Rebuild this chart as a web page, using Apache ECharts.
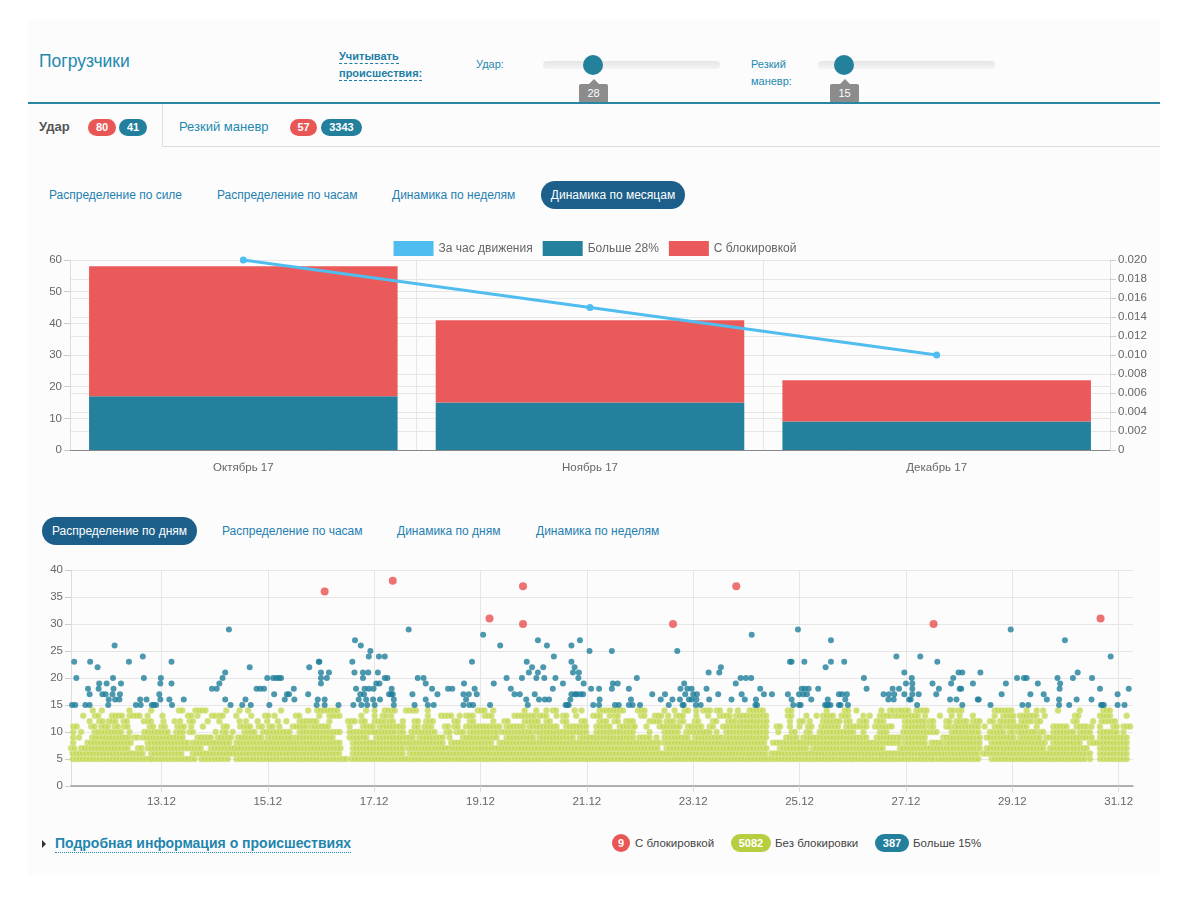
<!DOCTYPE html>
<html lang="ru">
<head>
<meta charset="utf-8">
<title>Погрузчики</title>
<script src="https://cdn.jsdelivr.net/npm/echarts@6/dist/echarts.min.js"></script>
<style>
  body { margin: 0; width: 1190px; height: 908px; background: #fff; font-family: 'Liberation Sans', Arial, sans-serif; position: relative; overflow: hidden; }
  .abs { position: absolute; white-space: nowrap; }
  .panel { left: 28px; top: 20px; width: 1132px; height: 855px; background: #fcfcfc; }
  .title { left: 39px; top: 51px; font-size: 17.5px; color: #2389b0; }
  .dash { font-size: 11px; font-weight: bold; color: #1d7ea6; border-bottom: 1px dashed #1d7ea6; line-height: 13px; }
  .lbl { font-size: 11px; color: #2389b0; line-height: 17px; }
  .track { height: 8px; width: 177px; top: 61px; border-radius: 4px; background: linear-gradient(#e6e6e6, #f4f4f4); }
  .handle { width: 20px; height: 20px; top: 55px; border-radius: 50%; background: #23819c; }
  .tip { top: 84px; width: 29px; height: 19px; background: #8c8c8c; color: #fff; font-size: 11px; line-height: 19px; text-align: center; border-radius: 2px; }
  .tip:before { content: ''; position: absolute; left: 10px; top: -5px; border-left: 5px solid transparent; border-right: 5px solid transparent; border-bottom: 5px solid #8c8c8c; }
  .badge { height: 17px; line-height: 17px; border-radius: 9px; color: #fff; font-size: 11px; font-weight: bold; text-align: center; }
  .red { background: #e95656; }
  .teal { background: #23809d; }
  .green { background: #b8cd40; }
  .tab { font-size: 12px; color: #1f80b2; line-height: 28px; }
  .pill { height: 28px; line-height: 28px; border-radius: 14px; background: #1c5f8a; color: #fff; font-size: 12px; text-align: center; }
  .small { font-size: 11.5px; color: #444; line-height: 18px; }
</style>
</head>
<body>
<div class="abs panel"></div>

<div class="abs title">Погрузчики</div>
<div class="abs dash" style="left:339px;top:50px;">Учитывать</div>
<div class="abs dash" style="left:339px;top:67px;">происшествия:</div>

<div class="abs lbl" style="left:476px;top:56px;">Удар:</div>
<div class="abs track" style="left:543px;"></div>
<div class="abs handle" style="left:583px;"></div>
<div class="abs tip" style="left:579px;">28</div>

<div class="abs lbl" style="left:751px;top:56px;">Резкий</div>
<div class="abs lbl" style="left:751px;top:73px;">маневр:</div>
<div class="abs track" style="left:818px;"></div>
<div class="abs handle" style="left:834px;"></div>
<div class="abs tip" style="left:830px;">15</div>

<div class="abs" style="left:28px;top:102px;width:1132px;height:2px;background:#2a87a3;"></div>

<div class="abs" style="left:39px;top:119px;font-size:13px;font-weight:bold;color:#555;">Удар</div>
<div class="abs badge red" style="left:88px;top:119px;width:28px;">80</div>
<div class="abs badge teal" style="left:119px;top:119px;width:28px;">41</div>
<div class="abs" style="left:162px;top:104px;width:1px;height:43px;background:#ddd;"></div>
<div class="abs" style="left:162px;top:146px;width:998px;height:1px;background:#ddd;"></div>
<div class="abs" style="left:179px;top:119px;font-size:13px;color:#2389b0;">Резкий маневр</div>
<div class="abs badge red" style="left:290px;top:119px;width:27px;">57</div>
<div class="abs badge teal" style="left:321px;top:119px;width:41px;">3343</div>

<div class="abs tab" style="left:49px;top:181px;">Распределение по силе</div>
<div class="abs tab" style="left:217px;top:181px;">Распределение по часам</div>
<div class="abs tab" style="left:392px;top:181px;">Динамика по неделям</div>
<div class="abs pill" style="left:541px;top:181px;width:144px;">Динамика по месяцам</div>

<div id="bars" class="abs" style="left:30px;top:225px;width:1130px;height:260px;"></div>

<div class="abs pill" style="left:42px;top:517px;width:155px;">Распределение по дням</div>
<div class="abs tab" style="left:222px;top:517px;">Распределение по часам</div>
<div class="abs tab" style="left:397px;top:517px;">Динамика по дням</div>
<div class="abs tab" style="left:536px;top:517px;">Динамика по неделям</div>

<div id="dots" class="abs" style="left:30px;top:555px;width:1130px;height:260px;"></div>

<div class="abs" style="left:42px;top:840px;width:0;height:0;border-top:4px solid transparent;border-bottom:4px solid transparent;border-left:4px solid #333;"></div>
<div class="abs" style="left:55px;top:835px;font-size:14px;font-weight:bold;color:#1f86ae;border-bottom:1px dotted #1f86ae;line-height:17px;">Подробная информация о происшествиях</div>

<div class="abs badge red" style="left:612px;top:834px;width:18px;height:18px;line-height:18px;">9</div>
<div class="abs small" style="left:635px;top:834px;">С блокировкой</div>
<div class="abs badge green" style="left:731px;top:834px;width:40px;height:18px;line-height:18px;">5082</div>
<div class="abs small" style="left:775px;top:834px;">Без блокировки</div>
<div class="abs badge teal" style="left:875px;top:834px;width:34px;height:18px;line-height:18px;">387</div>
<div class="abs small" style="left:913px;top:834px;">Больше 15%</div>

<script>
// ── monthly chart data ──
const months = ['Октябрь 17', 'Ноябрь 17', 'Декабрь 17']
const perHour = [0.020, 0.015, 0.010]
const over28 = [17, 15, 9]
const blocked = [41, 26, 13]

// ── daily scatter data: x = day of December, y = strength ──
const dayTicks = [13, 15, 17, 19, 21, 23, 25, 27, 29, 31]
const dayLabels = ['13.12', '15.12', '17.12', '19.12', '21.12', '23.12', '25.12', '27.12', '29.12', '31.12']

const redDots = [[16.07,36],[17.35,38],[19.17,31],[19.80,37],[19.80,30],[22.62,30],[23.81,37],[27.52,30],[30.66,31]]

const blueDots = [
  [11.32,15],[11.38,15],[11.36,23],[11.40,20],[11.57,15],[11.65,15],[11.62,18],[11.65,17],[11.66,23],[11.80,22],[11.82,18],[11.83,19],[11.89,17],[11.95,17],[11.97,19],[12.00,15],[12.01,16],[12.08,17],[12.09,20],[12.10,18],[12.12,26],[12.13,16],[12.21,16],[12.22,17],[12.24,19],[12.39,23],[12.52,15],[12.60,16],[12.61,15],[12.65,24],[12.67,20],[12.72,16],[12.82,15],[12.86,15],[12.90,15],[12.96,17],[12.98,19],[12.99,20],[12.98,16],[13.15,16],[13.19,23],[13.19,19],[13.20,15],[13.42,16],[13.95,18],[14.04,18],[14.09,19],[14.15,20],[14.20,21],[14.20,16],[14.27,29],[14.30,15],[14.52,15],[14.58,16],[14.66,22],[14.68,15],[14.79,18],[14.86,18],[14.93,18],[14.99,20],[15.03,15],[15.10,20],[15.12,17],[15.16,20],[15.21,20],[15.25,20],[15.32,16],[15.36,17],[15.40,17],[15.49,18],[15.50,16],[15.76,17],[15.78,22],[15.92,15],[15.94,16],[15.96,23],
  [15.97,23],[16.00,21],[16.00,20],[16.00,19],[16.07,16],[16.07,15],[16.11,20],[16.15,21],[16.33,15],[16.59,23],[16.61,15],[16.63,21],[16.64,27],[16.66,18],[16.71,16],[16.74,17],[16.75,26],[16.76,15],[16.79,20],[16.79,21],[16.81,17],[16.82,18],[16.85,16],[16.87,15],[16.89,21],[16.90,18],[16.90,24],[16.93,25],[16.98,16],[16.99,18],[17.01,15],[17.04,19],[17.07,21],[17.09,24],[17.10,19],[17.11,16],[17.20,24],[17.20,20],[17.25,20],[17.28,17],[17.32,17],[17.33,18],[17.37,16],[17.37,15],[17.35,17],
  [17.65,29],[17.72,17],[17.76,15],[17.82,20],[17.93,20],[17.97,19],[17.97,16],[18.01,15],[18.09,18],[18.12,15],[18.19,17],[18.39,18],[18.47,18],
  [18.68,17],[18.68,15],[18.69,19],[18.73,16],[18.78,17],[18.79,15],[18.84,23],[18.86,15],[18.89,18],[18.93,17],[19.05,28],[19.18,15],[19.25,19],[19.37,26],[19.49,20],[19.57,18],[19.64,17],[19.74,17],[19.78,20],[19.86,16],[19.87,23],[19.89,15],[19.91,21],[19.97,22],[20.02,17],[20.05,20],[20.08,27],[20.08,21],[20.10,16],[20.18,22],[20.20,20],[20.21,16],[20.25,26],[20.29,16],[20.36,18],[20.38,24],[20.41,20],[20.55,19],[20.60,15],[20.63,15],[20.66,15],[20.69,16],[20.71,23],[20.71,26],[20.74,21],[20.77,22],[20.71,17],[20.78,17],[20.81,17],[20.84,20],[20.85,21],[20.87,27],[20.88,17],[20.94,19],[20.93,17],[21.05,25],[21.08,18],[21.12,15],[21.23,18],[21.23,15],
  [21.24,16],[21.47,18],[21.47,25],[21.49,19],[21.53,15],[21.58,19],[21.60,15],[21.79,18],[21.79,15],[21.83,16],[21.86,15],[21.94,20],[22.00,15],[22.23,17],[22.39,16],[22.47,17],[22.54,15],[22.61,16],[22.70,25],[22.75,16],[22.76,18],[22.80,15],[22.82,15],[22.83,19],[22.85,17],[22.89,18],[22.92,16],[22.97,18],[22.97,16],[23.00,17],[23.05,15],[23.06,16],[23.07,17],[23.14,15],[23.25,18],[23.29,21],[23.30,16],[23.47,17],[23.49,21],[23.52,22],[23.72,16],[23.80,19],[23.89,20],[23.91,17],[23.97,16],[23.99,20],[24.09,20],[24.10,28],[24.17,15],[24.18,16],[24.20,15],[24.26,18],[24.33,17],[24.48,17],[24.78,17],[24.82,23],[24.85,23],[24.85,16],[24.88,15],[24.97,29],[24.99,15],[24.99,17],[25.02,15],[25.04,18],[25.07,17],[25.09,23],[25.10,18],[25.14,17],[25.17,18],[25.22,16],[25.35,18],[25.48,15],[25.49,22],[25.51,15],[25.53,16],[25.54,15],[25.58,15],[25.59,27],[25.59,23],[25.74,17],[25.74,15],[25.77,15],[25.80,17],[25.84,23],[25.86,16],[25.89,17],[25.91,15],[26.21,20],[26.26,18],
  [26.58,17],[26.67,16],[26.68,17],[26.75,18],[26.77,16],[26.78,17],[26.82,24],[26.87,18],[26.97,21],[26.97,17],[27.00,19],[27.06,16],[27.11,20],[27.12,19],[27.12,17],[27.12,18],[27.09,16],[27.21,15],[27.24,17],[27.27,24],[27.50,19],[27.57,17],[27.59,23],[27.62,18],[27.83,16],[27.85,19],[27.89,20],[27.95,16],[27.99,21],[28.01,18],[28.04,18],[28.06,15],[28.06,21],[28.26,19],[28.35,16],[28.37,16],[28.40,21],[28.59,15],[28.80,17],[28.88,19],[28.97,29],[29.09,20],[29.19,15],[29.22,20],[29.27,20],[29.30,15],[29.34,17],[29.48,19],[29.59,17],[29.65,16],[29.85,20],[29.88,15],[29.88,16],[29.89,18],[29.90,19],[29.99,27],[30.07,15],[30.14,20],[30.21,16],[30.23,21],[30.49,16],[30.50,20],[30.65,18],[30.67,15],[30.69,15],[30.72,15],[30.85,24],[30.98,17],[30.98,15],[31.11,15],[31.19,18]
]

// green "без блокировки" dots are too dense to read one by one:
// each row lists the stretches of days where that level is filled
const green14 = [[11.71,11.71],[11.88,11.93],[12.40,12.40],[12.81,12.81],[13.33,13.40],[13.64,13.84],[14.22,14.22],[14.47,14.47],[14.63,14.69],[15.25,15.25],[15.76,15.76],[15.93,16.35],[16.85,16.91],[17.01,17.01],[17.20,17.42],[17.60,17.79],[18.01,18.04],[18.95,19.08],[19.24,19.24],[19.83,19.86],[20.05,20.11],[20.24,20.24],[20.36,20.43],[20.77,20.80],[20.90,20.93],[21.24,21.37],[21.43,21.62],[21.68,21.74],[21.96,22.09],[22.46,22.46],[22.65,22.65],[22.84,22.93],[23.06,23.12],[23.19,23.34],[23.44,23.53],[23.69,23.69],[23.84,23.84],[24.06,24.31],[24.78,24.85],[25.51,25.57],[25.85,25.95],[26.07,26.07],[26.54,26.60],[26.70,26.79],[26.85,26.92],[26.98,27.07],[27.20,27.39],[27.83,27.92],[27.98,28.08],[28.67,28.99],[29.27,29.33],[29.46,29.46],[29.58,29.58],[29.86,29.86],[30.27,30.27],[30.71,30.84]]
const green13 = [[11.53,11.53],[11.75,11.82],[12.07,12.26],[12.40,12.62],[12.74,12.79],[13.02,13.06],[13.50,13.59],[13.68,13.68],[13.95,14.02],[14.09,14.19],[14.41,14.41],[14.69,14.69],[14.95,15.03],[15.13,15.19],[15.53,15.63],[15.97,15.97],[16.16,16.35],[16.76,16.76],[17.01,17.07],[17.16,17.23],[17.32,17.32],[18.01,18.01],[18.26,18.48],[18.61,18.61],[18.73,18.89],[19.08,19.24],[19.64,20.05],[20.11,20.24],[20.43,20.49],[20.55,20.65],[20.80,20.80],[21.12,21.30],[21.43,21.43],[21.52,21.62],[22.02,22.09],[22.28,22.28],[22.34,22.43],[22.53,22.53],[22.68,22.81],[23.06,23.12],[23.28,23.34],[23.50,23.72],[23.81,24.00],[24.06,24.38],[24.78,24.85],[25.13,25.13],[25.32,25.32],[25.44,25.63],[25.79,25.95],[26.20,26.20],[26.32,26.32],[26.51,26.73],[26.79,27.04],[27.10,27.26],[27.36,27.39],[27.64,27.64],[27.86,27.86],[28.01,28.01],[28.26,28.26],[28.67,28.67],[28.83,29.02],[29.14,29.46],[29.61,29.61],[30.18,30.27],[30.65,30.84],[31.15,31.15]]
const green12 = [[11.65,11.65],[11.83,11.90],[12.01,12.16],[12.29,12.40],[12.67,12.67],[12.74,12.82],[13.04,13.08],[13.25,13.25],[13.35,13.41],[13.53,13.62],[13.87,13.87],[14.09,14.15],[14.47,14.53],[14.59,14.59],[14.81,14.84],[14.99,15.05],[15.19,15.19],[15.35,15.35],[15.60,15.97],[16.16,16.16],[16.51,16.66],[16.76,16.85],[17.01,17.20],[17.29,17.38],[17.54,17.60],[17.76,17.85],[17.98,18.14],[18.51,18.61],[18.80,18.92],[19.24,19.24],[19.45,19.55],[19.83,20.14],[20.24,20.36],[20.55,20.65],[20.90,20.99],[21.24,21.37],[21.52,21.62],[21.74,21.87],[22.18,22.37],[22.50,22.68],[22.75,22.87],[23.03,23.12],[23.37,23.44],[23.66,23.81],[23.88,24.38],[24.82,24.88],[25.00,25.07],[25.19,25.25],[25.44,25.76],[25.88,25.95],[26.13,26.26],[26.45,26.60],[26.98,27.39],[27.45,27.57],[27.76,27.83],[27.95,28.17],[28.26,28.39],[28.58,28.70],[28.77,29.08],[29.17,29.39],[29.46,29.58],[30.15,30.27],[30.52,30.52],[30.68,30.99]]
const green11 = [[11.28,11.43],[11.68,11.77],[11.87,12.05],[12.12,12.24],[12.30,12.40],[12.78,12.90],[13.00,13.09],[13.30,13.46],[13.56,13.60],[13.78,13.84],[14.17,14.26],[14.48,14.67],[14.83,14.91],[15.03,15.13],[15.22,15.28],[15.47,15.75],[15.82,16.16],[16.54,16.60],[16.79,16.98],[17.10,17.42],[17.48,17.57],[17.76,17.85],[17.95,18.11],[18.33,18.45],[18.51,18.61],[18.73,18.92],[18.98,19.36],[19.49,19.86],[19.92,20.11],[20.18,20.49],[20.61,20.99],[21.18,21.49],[21.62,21.87],[21.90,21.93],[22.12,22.15],[22.37,22.75],[22.90,23.19],[23.31,23.40],[23.56,23.75],[23.81,24.38],[24.57,24.66],[24.82,24.88],[25.00,25.00],[25.16,25.25],[25.41,25.76],[25.88,26.26],[26.42,26.79],[26.98,27.39],[27.45,27.54],[27.76,27.83],[27.92,28.39],[28.48,28.48],[28.67,28.83],[28.89,29.02],[29.08,29.27],[29.46,29.52],[29.77,30.02],[30.21,30.40],[30.49,30.49],[30.65,30.71],[30.90,31.02],[31.09,31.28]]
const green10 = [[11.28,11.39],[11.49,11.49],[11.74,12.27],[12.40,12.46],[12.68,13.15],[13.28,13.46],[13.53,13.62],[14.02,14.04],[14.15,14.22],[14.34,14.37],[14.56,14.78],[14.91,15.47],[15.60,16.41],[16.54,16.98],[17.01,17.42],[17.48,17.60],[17.70,18.17],[18.36,18.48],[18.55,18.73],[18.80,19.30],[19.39,19.58],[19.64,19.99],[20.05,20.74],[20.80,20.99],[21.18,21.62],[21.68,21.87],[22.18,22.18],[22.46,22.75],[22.87,23.31],[23.44,23.50],[23.62,24.38],[24.60,24.63],[24.85,24.94],[25.13,25.25],[25.38,25.76],[25.82,26.01],[26.20,26.26],[26.51,26.67],[26.95,27.39],[27.45,27.61],[27.86,28.39],[28.58,28.89],[28.95,29.02],[29.11,29.46],[29.52,29.64],[29.77,30.15],[30.27,30.40],[30.46,30.52],[30.65,31.02],[31.09,31.15]]
const green9 = [[11.28,11.36],[11.45,11.45],[11.70,12.40],[12.49,12.56],[12.65,13.46],[13.68,13.93],[14.06,14.31],[14.44,14.91],[15.00,15.47],[15.53,16.22],[16.54,16.91],[17.04,17.48],[17.54,17.73],[17.85,18.29],[18.42,18.42],[18.67,19.17],[19.24,19.36],[19.49,19.99],[20.11,20.74],[20.87,21.87],[21.99,22.18],[22.31,22.31],[22.46,22.93],[23.03,23.56],[23.62,24.38],[24.75,24.94],[25.07,25.82],[25.88,26.26],[26.45,26.89],[26.98,27.39],[27.70,28.39],[28.52,29.08],[29.14,29.52],[29.64,30.33],[30.37,30.52],[30.65,31.21]]
const green8 = [[11.28,11.39],[11.61,12.43],[12.74,13.53],[13.59,14.28],[14.41,16.35],[16.60,18.29],[18.45,19.24],[19.36,22.37],[22.46,24.38],[24.50,26.89],[26.98,27.39],[27.48,27.70],[27.76,28.39],[28.61,29.64],[29.77,30.27],[30.46,30.59],[30.65,31.18],[31.28,31.28]]
const green7 = [[11.30,11.39],[11.49,12.40],[12.56,12.68],[12.74,13.78],[13.93,16.41],[16.60,17.57],[17.64,22.37],[22.50,24.38],[24.63,25.13],[25.25,26.60],[26.89,28.39],[28.52,29.64],[29.71,30.40],[30.65,31.15]]
const green6 = [[11.27,12.65],[12.81,13.40],[13.59,16.35],[16.60,17.54],[17.67,24.38],[24.47,28.39],[28.45,30.40],[30.46,30.52],[30.65,31.18]]
const green5 = [[11.27,12.78],[12.81,13.65],[13.75,14.31],[14.41,16.48],[16.57,17.42],[17.45,22.43],[22.46,24.44],[24.47,27.54],[27.61,28.42],[28.61,30.40],[30.46,30.52],[30.65,31.18]]

// ─────────────────────────────────────────
// HELPERS
// ─────────────────────────────────────────
const FONT = "'Liberation Sans', Arial, sans-serif"
const C = { red: '#eb5a5a', blue: '#23819d', sky: '#4fbdf0', green: '#c4d751', grid: '#e6e6e6', text: '#666' }

// one dot every hour and a half along every filled stretch
function rowDots(level, stretches) {
  const out = []
  stretches.forEach(([a, b]) => {
    for (let t = a; t <= b + 1e-6; t += 1 / 16) out.push([+t.toFixed(3), level])
  })
  return out
}

const greenRows = [[5, green5], [6, green6], [7, green7], [8, green8], [9, green9], [10, green10], [11, green11], [12, green12], [13, green13], [14, green14]]
const greenDots = greenRows.flatMap(([lvl, rows]) => rowDots(lvl, rows))

// ─────────────────────────────────────────
// MONTHLY BARS
// ─────────────────────────────────────────
const bars = echarts.init(document.getElementById('bars'), null, { renderer: 'canvas' })
bars.setOption({
  animation: false,
  textStyle: { fontFamily: FONT },
  legend: {
    top: 11,
    left: 'center',
    itemWidth: 40,
    itemHeight: 15,
    itemGap: 10,
    textStyle: { color: C.text, fontSize: 12 },
    data: [
      { name: 'За час движения', icon: 'rect' },
      { name: 'Больше 28%', icon: 'rect' },
      { name: 'С блокировкой', icon: 'rect' },
    ],
  },
  grid: { left: 40, right: 50, top: 35, bottom: 35 },
  xAxis: {
    type: 'category',
    data: months,
    axisLine: { lineStyle: { color: '#888' } },
    axisTick: { length: 10, lineStyle: { color: '#ddd' } },
    splitLine: { show: true, lineStyle: { color: C.grid } },
    axisLabel: { color: C.text, fontSize: 11.5, margin: 12 },
  },
  yAxis: [
    {
      type: 'value', min: 0, max: 60, interval: 10,
      axisLine: { show: true, lineStyle: { color: '#ddd' } },
      axisTick: { show: true, length: 6, lineStyle: { color: '#ccc' } },
      splitLine: { lineStyle: { color: C.grid } },
      axisLabel: { color: C.text, fontSize: 11.5, margin: 8 },
    },
    {
      type: 'value', min: 0, max: 0.02, interval: 0.002, position: 'right',
      axisLine: { show: true, lineStyle: { color: '#ddd' } },
      axisTick: { show: true, length: 6, lineStyle: { color: '#ccc' } },
      splitLine: { lineStyle: { color: C.grid } },
      axisLabel: { color: C.text, fontSize: 11.5, margin: 8, formatter: v => (v === 0 ? '0' : v.toFixed(3)) },
    },
  ],
  series: [
    {
      name: 'Больше 28%', type: 'bar', stack: 'm', data: over28,
      barCategoryGap: '11%', itemStyle: { color: C.blue },
    },
    {
      name: 'С блокировкой', type: 'bar', stack: 'm', data: blocked,
      itemStyle: { color: C.red },
    },
    {
      name: 'За час движения', type: 'line', yAxisIndex: 1, data: perHour, z: 5,
      symbol: 'circle', symbolSize: 7,
      lineStyle: { width: 3, color: C.sky }, itemStyle: { color: C.sky },
    },
  ],
})

// ─────────────────────────────────────────
// DAILY SCATTER
// ─────────────────────────────────────────
const dots = echarts.init(document.getElementById('dots'), null, { renderer: 'canvas' })
dots.setOption({
  animation: false,
  textStyle: { fontFamily: FONT },
  grid: { left: 41, right: 27, top: 15, bottom: 29 },
  xAxis: {
    type: 'value', min: 11.3, max: 31.27,
    axisLine: { lineStyle: { color: '#999', width: 1.5 } },
    axisTick: { show: true, customValues: dayTicks, length: 6, lineStyle: { color: '#ddd' } },
    axisLabel: {
      customValues: dayTicks, color: C.text, fontSize: 11.5, margin: 10,
      formatter: v => dayLabels[dayTicks.indexOf(Math.round(v))] || '',
    },
    splitLine: { show: true, lineStyle: { color: C.grid } },
  },
  yAxis: {
    type: 'value', min: 0, max: 40, interval: 5,
    axisLine: { show: true, lineStyle: { color: '#ddd' } },
    axisTick: { show: true, length: 6, lineStyle: { color: '#ccc' } },
    splitLine: { lineStyle: { color: C.grid } },
    axisLabel: { color: C.text, fontSize: 11.5, margin: 8 },
  },
  series: [
    {
      name: 'Без блокировки', type: 'scatter', data: greenDots, symbolSize: 6.5,
      itemStyle: { color: C.green, borderColor: 'rgba(255,255,255,0.55)', borderWidth: 0.6 },
    },
    { name: 'Больше 15%', type: 'scatter', data: blueDots, symbolSize: 6, itemStyle: { color: '#1f7e9b' } },
    { name: 'С блокировкой', type: 'scatter', data: redDots, symbolSize: 8, itemStyle: { color: '#ea4f4f' } },
  ],
})
</script>
</body>
</html>
